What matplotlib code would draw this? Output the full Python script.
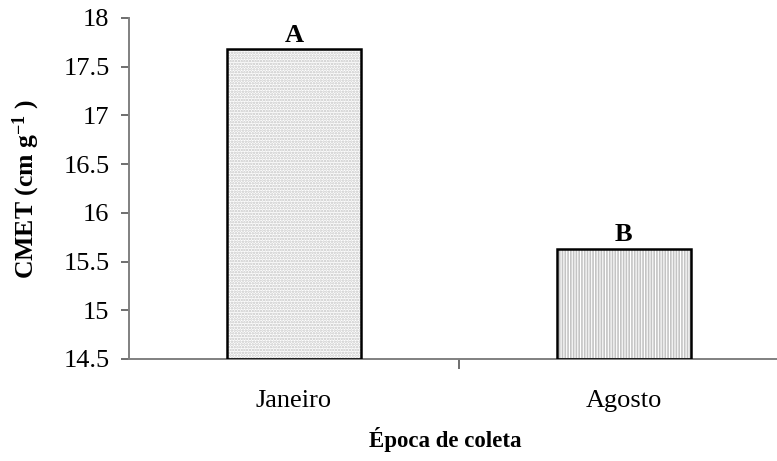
import numpy as np
import matplotlib.pyplot as plt

plt.rcParams['font.family'] = ['Liberation Serif', 'DejaVu Serif']
plt.rcParams['mathtext.fontset'] = 'custom'
plt.rcParams['mathtext.rm'] = 'Liberation Serif'
plt.rcParams['mathtext.bf'] = 'Liberation Serif:bold'
plt.rcParams['hatch.linewidth'] = 1.2

categories = ['Janeiro', 'Agosto']
values = [17.68, 15.63]
letters = ['A', 'B']
hatches = ['......', '||||||']

fig = plt.figure(figsize=(7.77, 4.61), dpi=100)
ax = fig.add_axes([0.166, 0.2213, 0.849, 0.7397])

x = np.array([0.5, 1.5])
for xi, v, h in zip(x, values, hatches):
    ax.bar(xi, v - 14.5, bottom=14.5, width=0.405, color='white',
           edgecolor='#c4c4c4', hatch=h, linewidth=0, zorder=2)
    ax.bar(xi, v - 14.5, bottom=14.5, width=0.405, fill=False,
           edgecolor='black', linewidth=1.8, zorder=3)

for xi, v, t in zip(x, values, letters):
    ax.text(xi, v + 0.025, t, ha='center', va='bottom', fontsize=19,
            fontweight='bold')

ax.set_xlim(0, 2)
ax.set_ylim(14.5, 18)
ax.set_yticks(np.arange(14.5, 18.01, 0.5))
ax.set_yticklabels(['14.5', '15', '15.5', '16', '16.5', '17', '17.5', '18'])
ax.set_xticks([1])
ax.set_xticklabels([])
ax.set_xticks(x, minor=True)
ax.set_xticklabels(categories, minor=True)
ax.tick_params(axis='x', which='minor', length=0, pad=22, labelsize=19)
ax.tick_params(axis='x', which='major', length=7, width=1.2, color='#555555')
ax.tick_params(axis='y', length=6, width=1.2, color='#555555', labelsize=19, pad=8)

for s in ['top', 'right']:
    ax.spines[s].set_visible(False)
for s in ['left', 'bottom']:
    ax.spines[s].set_color('#808080')
    ax.spines[s].set_linewidth(1.4)

ax.set_xlabel('Época de coleta', fontsize=16.5, fontweight='bold')
ax.xaxis.set_label_coords(0.479, -0.2)
ax.set_ylabel(r'CMET (cm g$\mathbf{^{-1}}$ )', fontsize=18.5, fontweight='bold')
ax.yaxis.set_label_coords(-0.132, 0.5)

fig.savefig('out.png', dpi=100)
